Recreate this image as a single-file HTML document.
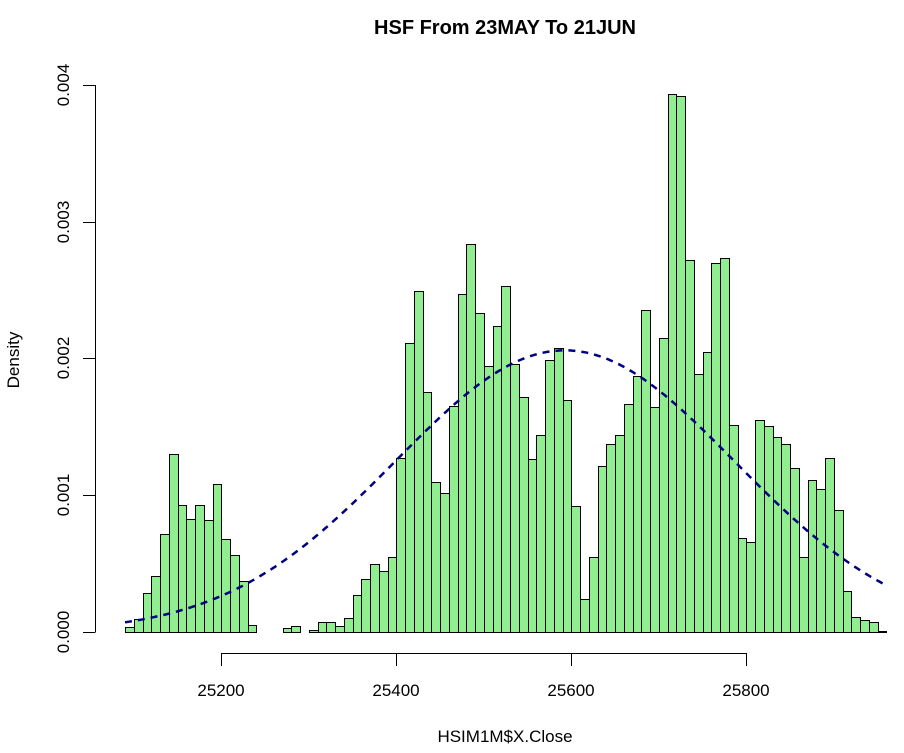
<!DOCTYPE html>
<html><head><meta charset="utf-8"><style>
html,body{margin:0;padding:0;background:#fff;}
svg{display:block;font-family:"Liberation Sans",Arial,sans-serif;}
</style></head><body>
<svg id="s" width="904" height="753" viewBox="0 0 904 753" xmlns="http://www.w3.org/2000/svg">
<rect width="904" height="753" fill="#fff"/>
<g id="bars" fill="#90ee90" stroke="#000" stroke-width="1"></g>
<polyline id="curve" fill="none" stroke="#000080" stroke-width="2.5" stroke-dasharray="7,6"/>
<g stroke="#000" stroke-width="1" fill="none">
<line x1="95.5" y1="85" x2="95.5" y2="632"/>
<line x1="83" y1="85.5" x2="95.5" y2="85.5"/>
<line x1="83" y1="222.5" x2="95.5" y2="222.5"/>
<line x1="83" y1="358.5" x2="95.5" y2="358.5"/>
<line x1="83" y1="495.5" x2="95.5" y2="495.5"/>
<line x1="83" y1="632.5" x2="95.5" y2="632.5"/>
<line x1="221" y1="653.5" x2="746" y2="653.5"/>
<line x1="221.5" y1="653" x2="221.5" y2="666"/>
<line x1="396.5" y1="653" x2="396.5" y2="666"/>
<line x1="571.5" y1="653" x2="571.5" y2="666"/>
<line x1="746.5" y1="653" x2="746.5" y2="666"/>
</g>
<g font-size="17" fill="#000" text-anchor="middle">
<text transform="translate(69,632) rotate(-90)">0.000</text>
<text transform="translate(69,495) rotate(-90)">0.001</text>
<text transform="translate(69,358) rotate(-90)">0.002</text>
<text transform="translate(69,222) rotate(-90)">0.003</text>
<text transform="translate(69,85) rotate(-90)">0.004</text>
<text x="221" y="696">25200</text>
<text x="396" y="696">25400</text>
<text x="571" y="696">25600</text>
<text x="746" y="696">25800</text>
<text x="505" y="742">HSIM1M$X.Close</text>
<text transform="translate(19,360) rotate(-90)">Density</text>
<text x="505" y="34" font-weight="bold" font-size="20">HSF From 23MAY To 21JUN</text>
</g>
</svg>
<script>
var tops=[626.7,619.3,593.3,576.3,534.3,454.3,505.3,519.3,505.3,520.3,484.3,539.3,555.3,581.3,625.3,null,null,null,628.3,626.3,null,630.3,621.7,621.7,625.7,618.3,595.3,579.3,564.3,571.3,557.3,458.3,343.3,291.3,392.3,482.3,493.3,406,294.3,244.3,313.3,366,326.3,286.3,364.3,397.3,459.3,435.3,360.3,348,400.3,506.3,599.3,557.3,466.3,444.3,435.3,404,376,310.3,407.3,338.3,94,96,260,374.3,352,262.5,257.5,425.1,538.2,541.5,420.1,425.8,437,444.1,468.1,557.3,480.2,489.2,457.7,510.3,590.9,616.7,619.5,621.7,630.6];
var g=document.getElementById('bars'),ns='http://www.w3.org/2000/svg';
for(var i=0;i<tops.length;i++){if(tops[i]==null)continue;var x0=125+i*8.75,x1=125+(i+1)*8.75;
var r=document.createElementNS(ns,'rect');r.setAttribute('x',(Math.round(x0)+0.5));r.setAttribute('width',Math.round(x1)-Math.round(x0));
var t=Math.round(tops[i])+0.5;r.setAttribute('y',t);r.setAttribute('height',632.5-t);g.appendChild(r);}
var pts=[],mu=25593,sd=193.7;
for(var x=125;x<=886;x+=2){var v=25200+(x-221)/0.875;var z=(v-mu)/sd;var d=Math.exp(-z*z/2)/(sd*2.5066);pts.push(x+','+(632-d*136750).toFixed(1));}
document.getElementById('curve').setAttribute('points',pts.join(' '));
</script>
</body></html>
